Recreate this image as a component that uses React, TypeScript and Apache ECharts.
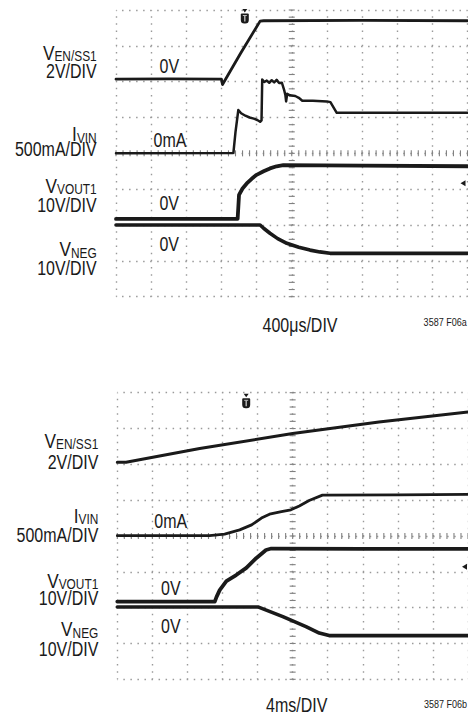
import React, { useEffect, useRef } from "react";
import * as echarts from "echarts";

const FONT = '"Liberation Sans", Arial, sans-serif';
const SQUEEZE = 0.82;
const INK = "#1a1a1a";
const GRIDC = "#9a9a9a";

// ---- data (x in time divisions 0..10, y in vertical divisions 0..8) ----
const topEnSs1 = [[0, 6.07], [1.5, 6.08], [3.0, 6.07], [3.03, 5.92], [3.55, 6.8], [4.1, 7.69], [4.2, 7.7], [7, 7.71], [10, 7.7]];
const topIvin = [[0, 4.0], [3.34, 4.01], [3.4, 4.6], [3.48, 5.21], [3.56, 5.12], [3.68, 5.05], [3.8, 5.0], [3.92, 4.97], [4.02, 4.93], [4.1, 4.88], [4.14, 4.92], [4.16, 6.06], [4.22, 5.99], [4.29, 6.03], [4.36, 5.97], [4.43, 6.04], [4.5, 5.98], [4.57, 6.05], [4.64, 5.96], [4.72, 5.97], [4.78, 5.78], [4.82, 5.62], [4.84, 5.45], [4.87, 5.66], [4.95, 5.62], [5.1, 5.6], [5.2, 5.55], [5.3, 5.47], [5.6, 5.47], [6.0, 5.45], [6.1, 5.43], [6.28, 5.13], [8, 5.13], [10, 5.13]];
const topVout1 = [[0, 2.17], [3.46, 2.17], [3.48, 2.5], [3.5, 2.84], [3.6, 3.02], [3.72, 3.16], [3.86, 3.29], [4.0, 3.4], [4.2, 3.5], [4.38, 3.58], [4.57, 3.64], [4.76, 3.67], [7, 3.66], [10, 3.64]];
const topNeg = [[0, 2.0], [4.1, 2.0], [4.2, 1.91], [4.38, 1.77], [4.6, 1.62], [4.86, 1.49], [5.2, 1.38], [5.52, 1.3], [5.8, 1.25], [6.09, 1.21], [8, 1.21], [10, 1.21]];

const botEnSs1 = [[0, 6.06], [0.25, 6.06], [2.35, 6.44], [5.0, 6.86], [7.46, 7.18], [10, 7.46]];
const botIvin = [[0, 4.01], [2.63, 4.01], [3.06, 4.055], [3.49, 4.17], [3.83, 4.31], [4.11, 4.5], [4.34, 4.61], [4.68, 4.68], [4.95, 4.73], [5.19, 4.84], [5.47, 4.99], [5.85, 5.14], [8, 5.15], [10, 5.16]];
const botVout1 = [[0, 2.17], [2.78, 2.17], [2.83, 2.3], [2.92, 2.49], [3.11, 2.74], [3.39, 2.91], [3.68, 3.11], [3.96, 3.38], [4.24, 3.61], [4.39, 3.65], [7, 3.64], [10, 3.64]];
const botNeg = [[0, 2.02], [4.01, 2.02], [4.72, 1.75], [5.38, 1.47], [5.76, 1.29], [6.04, 1.22], [10, 1.22]];

const X_DIVS = 10;
const Y_DIVS = 8;
const MINOR = 5;

const topLabels = { timebase: "400\u03bcs/DIV", fig: "3587 F06a" };
const botLabels = { timebase: "4ms/DIV", fig: "3587 F06b" };

function centerTicks() {
  const out: number[][] = [];
  for (let i = 0; i <= X_DIVS * MINOR; i++) out.push([i / MINOR, Y_DIVS / 2, 0]);
  for (let j = 0; j <= Y_DIVS * MINOR; j++) out.push([X_DIVS / 2, j / MINOR, 1]);
  return out;
}

export default function App() {
  const ref = useRef<HTMLDivElement>(null);
  useEffect(() => {
    if (!ref.current) return;
    const chart = echarts.init(ref.current, null, { renderer: "svg" });

    const grids = [
      { left: 116, top: 10, width: 351.5, height: 286.7 },
      { left: 117.3, top: 392.7, width: 352, height: 286.6 },
    ];

    const xAxis = grids.map((g, i) => ({
      type: "value",
      gridIndex: i,
      min: 0,
      max: X_DIVS,
      interval: 1,
      axisLine: { show: false },
      axisTick: { show: false },
      axisLabel: { show: false },
      splitLine: {
        show: true,
        lineStyle: { color: GRIDC, width: 1.4, type: [1.5, g.height / (Y_DIVS * MINOR) - 1.5], dashOffset: 0.75 },
      },
    }));
    const yAxis = grids.map((g, i) => ({
      type: "value",
      gridIndex: i,
      min: 0,
      max: Y_DIVS,
      interval: 1,
      axisLine: { show: false },
      axisTick: { show: false },
      axisLabel: { show: false },
      splitLine: {
        show: true,
        lineStyle: { color: GRIDC, width: 1.4, type: [1.5, g.width / (X_DIVS * MINOR) - 1.5], dashOffset: 0.75 },
      },
    }));

    const trace = (data: number[][], gi: number, width: number) => ({
      type: "line",
      xAxisIndex: gi,
      yAxisIndex: gi,
      data,
      showSymbol: false,
      symbol: "none",
      smooth: false,
      lineStyle: { color: INK, width, cap: "round", join: "round" },
      z: 5,
    });

    const tickSeries = (gi: number) => ({
      type: "custom",
      xAxisIndex: gi,
      yAxisIndex: gi,
      data: centerTicks(),
      z: 2,
      silent: true,
      renderItem: (_p: any, api: any) => {
        const c = api.coord([api.value(0), api.value(1)]);
        const o = api.value(2);
        const h = 3;
        return {
          type: "line",
          shape: o === 0 ? { x1: c[0], y1: c[1] - h, x2: c[0], y2: c[1] + h } : { x1: c[0] - h, y1: c[1], x2: c[0] + h, y2: c[1] },
          style: { stroke: "#808080", lineWidth: 1.1 },
        };
      },
    });

    const plain = (x: number, y: number, text: string, size = 19.5, align = "right") => ({
      type: "text",
      x,
      y,
      scaleX: SQUEEZE,
      z: 10,
      style: { text, fill: INK, fontSize: size, fontFamily: FONT, align, verticalAlign: "middle" },
    });
    const sub = (x: number, y: number, main: string, s: string) => ({
      type: "text",
      x,
      y,
      scaleX: SQUEEZE,
      z: 10,
      style: {
        text: `{m|${main}}{s|${s}}`,
        fill: INK,
        fontFamily: FONT,
        fontSize: 21,
        align: "right",
        verticalAlign: "middle",
        rich: {
          m: { fontSize: 21, lineHeight: 22, fontFamily: FONT, fill: INK },
          s: { fontSize: 14.5, lineHeight: 13.6, verticalAlign: "bottom", fontFamily: FONT, fill: INK },
        },
      },
    });

    const trig = (cx: number, top: number) => ({
      type: "group",
      z: 10,
      children: [
        { type: "polygon", shape: { points: [[cx - 2.5, top - 4.5], [cx + 2.5, top - 4.5], [cx, top - 1]] }, style: { fill: INK } },
        { type: "rect", shape: { x: cx - 4, y: top, width: 8, height: 10, r: [1, 1, 3.5, 3.5] }, style: { fill: INK } },
        { type: "line", shape: { x1: cx, y1: top + 2, x2: cx, y2: top + 8 }, style: { stroke: "#bbb", lineWidth: 1.4 } },
        { type: "line", shape: { x1: cx - 2, y1: top + 2, x2: cx + 2, y2: top + 2 }, style: { stroke: "#bbb", lineWidth: 1 } },
      ],
    });
    const arrow = (tx: number, ty: number) => ({
      type: "polygon",
      z: 10,
      shape: { points: [[tx, ty], [tx + 5, ty - 3], [tx + 5, ty + 3]] },
      style: { fill: INK },
    });

    const graphic = [
      // top panel labels
      sub(96.7, 52.5, "V", "EN/SS1"),
      plain(96.7, 71.7, "2V/DIV"),
      sub(96.7, 134.2, "I", "VIN"),
      plain(96.7, 149, "500mA/DIV"),
      sub(96.7, 185.8, "V", "VOUT1"),
      plain(96.7, 205, "10V/DIV"),
      sub(96.7, 249.2, "V", "NEG"),
      plain(96.7, 268.3, "10V/DIV"),
      plain(169.3, 66.7, "0V", 19.5, "center"),
      plain(170, 140.8, "0mA", 19.5, "center"),
      plain(169.2, 203.3, "0V", 19.5, "center"),
      plain(169.2, 244.2, "0V", 19.5, "center"),
      plain(300, 325, topLabels.timebase, 19.5, "center"),
      plain(466.7, 322.5, topLabels.fig, 11, "right"),
      trig(244.8, 13.5),
      arrow(460.5, 183.3),
      // bottom panel labels
      sub(98.3, 440.8, "V", "EN/SS1"),
      plain(98.3, 462.5, "2V/DIV"),
      sub(98.3, 515.8, "I", "VIN"),
      plain(98.3, 535, "500mA/DIV"),
      sub(98.3, 580.5, "V", "VOUT1"),
      plain(98.3, 598.3, "10V/DIV"),
      sub(98.3, 629.2, "V", "NEG"),
      plain(98.3, 649.2, "10V/DIV"),
      plain(170.8, 521.7, "0mA", 19.5, "center"),
      plain(170.8, 588.3, "0V", 19.5, "center"),
      plain(170.8, 626, "0V", 19.5, "center"),
      plain(296.7, 705, botLabels.timebase, 19.5, "center"),
      plain(467, 703.7, botLabels.fig, 11, "right"),
      trig(246.2, 398.3),
      arrow(462, 566.7),
    ];

    chart.setOption({
      animation: false,
      backgroundColor: "#ffffff",
      grid: grids.map((g) => ({ ...g, containLabel: false })),
      xAxis,
      yAxis,
      series: [
        tickSeries(0),
        tickSeries(1),
        trace(topEnSs1, 0, 2.8),
        trace(topIvin, 0, 2.5),
        trace(topVout1, 0, 3.8),
        trace(topNeg, 0, 3.6),
        trace(botEnSs1, 1, 3.0),
        trace(botIvin, 1, 2.8),
        trace(botVout1, 1, 3.8),
        trace(botNeg, 1, 3.6),
      ],
      graphic,
    });
    return () => chart.dispose();
  }, []);

  return <div ref={ref} style={{ position: "absolute", left: 0, top: 0, width: 468, height: 715 }} />;
}
